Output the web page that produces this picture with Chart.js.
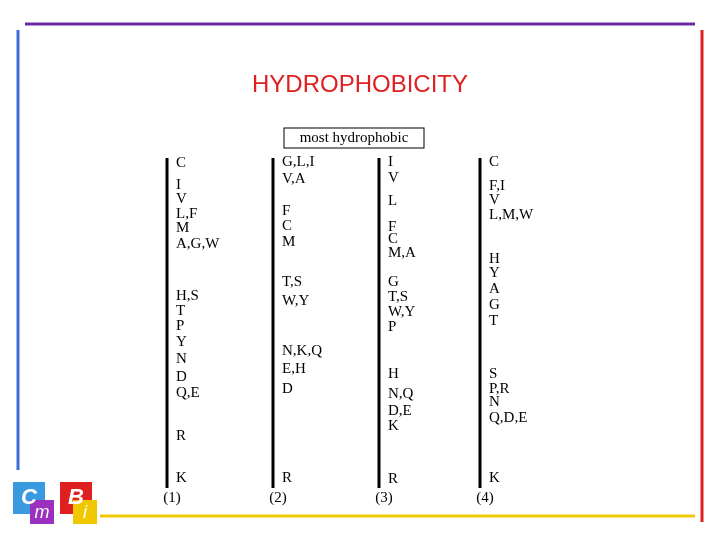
<!DOCTYPE html><html><head><script src="https://cdn.jsdelivr.net/npm/chart.js@4"></script>
<style>html,body{margin:0;padding:0;background:#fff}#w{width:720px;height:540px}</style></head><body><div id="w"><canvas id="c"></canvas></div>
<script>
const scaleNames=["(1)","(2)","(3)","(4)"];
const scaleX=[167,273,379,480];
const labels1=["C","I","V","L,F","M","A,G,W","H,S","T","P","Y","N","D","Q,E","R","K"];
const pos1=[163,185,199,214,228,244,296,311,326,342,359,377,393,436,478];
const labels2=["G,L,I","V,A","F","C","M","T,S","W,Y","N,K,Q","E,H","D","R"];
const pos2=[162,179,211,226,242,282,301,351,369,389,478];
const labels3=["I","V","L","F","C","M,A","G","T,S","W,Y","P","H","N,Q","D,E","K","R"];
const pos3=[162,178,201,227,239,253,282,297,312,327,374,394,411,426,479];
const labels4=["C","F,I","V","L,M,W","H","Y","A","G","T","S","P,R","N","Q,D,E","K"];
const pos4=[162,186,200,215,259,273,289,305,321,374,389,402,418,478];
const allLabels=[labels1,labels2,labels3,labels4], allPos=[pos1,pos2,pos3,pos4];
const datasets=scaleX.map((x,i)=>({type:'line',data:[{x:x,y:158},{x:x,y:488}],borderColor:'#000',borderWidth:3,pointRadius:0}));
const deco={id:'deco',afterDraw(ch){
 const c=ch.ctx,X=ch.scales.x,Y=ch.scales.y;c.save();
 const L=(x1,y1,x2,y2,col,w)=>{c.strokeStyle=col;c.lineWidth=w;c.beginPath();c.moveTo(X.getPixelForValue(x1),Y.getPixelForValue(y1));c.lineTo(X.getPixelForValue(x2),Y.getPixelForValue(y2));c.stroke();};
 L(25,24,695,24,'#6a2aa8',3);L(18,30,18,470,'#3a6fd8',3);L(702,30,702,522,'#e02020',3);L(100,516,695,516,'#f0c800',3);
 c.fillStyle='#e02020';c.font='24px Arial, "Liberation Sans"';c.textAlign='center';c.textBaseline='middle';
 c.fillText('HYDROPHOBICITY',X.getPixelForValue(360),Y.getPixelForValue(85));
 c.strokeStyle='#000';c.lineWidth=1;c.strokeRect(X.getPixelForValue(284),Y.getPixelForValue(128),140,20);
 c.fillStyle='#000';c.font='15px "Liberation Serif", serif';c.fillText('most hydrophobic',X.getPixelForValue(354),Y.getPixelForValue(138.5));
 c.textAlign='left';c.font='15px "Liberation Serif", serif';
 allLabels.forEach((ls,i)=>ls.forEach((t,j)=>c.fillText(t,X.getPixelForValue(scaleX[i]+9),Y.getPixelForValue(allPos[i][j]))));
 c.textAlign='center';scaleNames.forEach((t,i)=>c.fillText(t,X.getPixelForValue(scaleX[i]+5),Y.getPixelForValue(498)));
 // logo
 const box=(x,y,w,h,col)=>{c.fillStyle=col;c.fillRect(x,y,w,h);};
 box(13,482,32,32,'#3a9ae0');box(30,500,24,24,'#9a2fc0');box(60,482,32,32,'#e02020');box(73,500,24,24,'#f0c800');
 c.font='bold italic 22px Arial';c.fillStyle='#fff';c.fillText('C',29,498);c.fillText('B',76,498);
 c.font='italic 18px Arial';c.fillText('m',42,513);c.fillText('i',85,513);
 c.restore();}};
new Chart(document.getElementById('c'),{type:'scatter',data:{datasets},plugins:[deco],
 options:{responsive:true,maintainAspectRatio:false,animation:false,layout:{padding:0},
 plugins:{legend:{display:false},tooltip:{enabled:false}},
 scales:{x:{type:'linear',min:0,max:720,display:false},y:{type:'linear',min:0,max:540,reverse:true,display:false}}}});
</script></body></html>
